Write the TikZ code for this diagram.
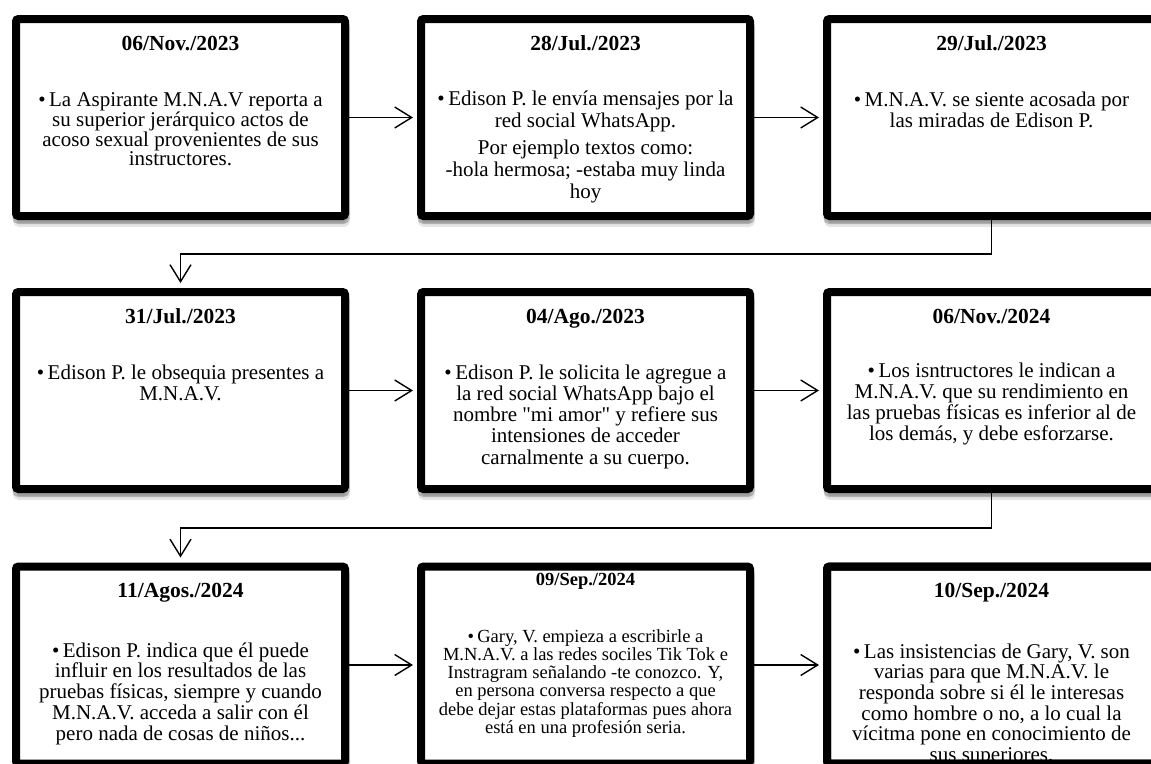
\documentclass[tikz,border=0pt]{standalone}
\usepackage{fontspec}
\setmainfont{Liberation Serif}[Ligatures=TeXOff]
\usetikzlibrary{arrows.meta,shadows,calc}
\begin{document}
\begin{tikzpicture}[x=1pt,y=-1pt,
  box/.style={draw=black, fill=white, line width=8pt, rounded corners=2.5pt,
    minimum width=329pt, minimum height=197pt, inner sep=0pt,
    drop shadow={shadow xshift=1pt, shadow yshift=-7pt, opacity=0.10, fill=black, draw=black, line width=8pt},
    drop shadow={shadow xshift=0.5pt, shadow yshift=-4pt, opacity=0.22, fill=black, draw=black, line width=8pt}},
  boxline/.style={draw=black, line width=8pt, rounded corners=2.5pt},
  title/.style={anchor=base, inner sep=0pt, font=\bfseries\fontsize{21.5}{21.5}\selectfont},
  smalltitle/.style={anchor=base, inner sep=0pt, font=\bfseries\fontsize{18.5}{18.5}\selectfont},
  body/.style={anchor=base, inner sep=0pt, font=\fontsize{21}{21.3}\selectfont},
  smallbody/.style={anchor=base, inner sep=0pt, font=\fontsize{18.5}{18.3}\selectfont},
  wire/.style={line width=1.4pt},
  conn/.style={wire, -{Straight Barb[length=17pt,width=21pt]}, shorten >=4pt}
]
\useasboundingbox (0,0) rectangle (1151,763);
\clip (0,0) rectangle (1151,763);
\fill[white] (0,0) rectangle (1151,763);

% boxes (third column runs off the right edge)
\node[box] (b1) at (180.5,117.5) {};
\node[box] (b2) at (585.5,117.5) {};
\node[box] (b3) at (991.5,117.5) {};
\node[box] (b4) at (180.5,390.5) {};
\node[box] (b5) at (585.5,390.5) {};
\node[box] (b6) at (991.5,390.5) {};
\node[box] (b7) at (180.5,665) {};
\node[box] (b8) at (585.5,665) {};
\node[box] (b9) at (991.5,665) {};

% titles
\node[title] (t1) at (180.5,50) {06/Nov./2023};
\node[title] (t2) at (585.5,50) {28/Jul./2023};
\node[title] (t3) at (991.5,50) {29/Jul./2023};
\node[title] (t4) at (180.5,323) {31/Jul./2023};
\node[title] (t5) at (585.5,323) {04/Ago./2023};
\node[title] (t6) at (991.5,323) {06/Nov./2024};
\node[title] (t7) at (180.5,597) {11/Agos./2024};
\node[smalltitle] (t8) at (585.5,585) {09/Sep./2024};
\node[title] (t9) at (991.5,597) {10/Sep./2024};

% bodies
\node[body, font=\fontsize{21}{18.8}\selectfont] (d1) at (180.5,106) {\begin{tabular}[t]{@{}c@{}}•\,La Aspirante M.N.A.V reporta a\\ su superior jerárquico actos de\\ acoso sexual provenientes de sus\\ instructores.\end{tabular}};
\node[body, font=\fontsize{21}{22}\selectfont] (d2) at (585.5,105) {\begin{tabular}[t]{@{}c@{}}•\,Edison P. le envía mensajes por la\\ red social WhatsApp.\\[5pt] Por ejemplo textos como:\\ -hola hermosa; -estaba muy linda\\ hoy\end{tabular}};
\node[body] (d3) at (991.5,106) {\begin{tabular}[t]{@{}c@{}}•\,M.N.A.V. se siente acosada por\\ las miradas de Edison P.\end{tabular}};
\node[body] (d4) at (180.5,379) {\begin{tabular}[t]{@{}c@{}}•\,Edison P. le obsequia presentes a\\ M.N.A.V.\end{tabular}};
\node[body] (d5) at (585.5,379) {\begin{tabular}[t]{@{}c@{}}•\,Edison P. le solicita le agregue a\\ la red social WhatsApp bajo el\\ nombre "mi amor" y refiere sus\\ intensiones de acceder\\ carnalmente a su cuerpo.\end{tabular}};
\node[body] (d6) at (991.5,377) {\begin{tabular}[t]{@{}c@{}}•\,Los isntructores le indican a\\ M.N.A.V. que su rendimiento en\\ las pruebas físicas es inferior al de\\ los demás, y debe esforzarse.\end{tabular}};
\node[body, font=\fontsize{21}{20.5}\selectfont] (d7) at (180.5,657) {\begin{tabular}[t]{@{}c@{}}•\,Edison P. indica que él puede\\ influir en los resultados de las\\ pruebas físicas, siempre y cuando\\ M.N.A.V. acceda a salir con él\\ pero nada de cosas de niños...\end{tabular}};
\node[smallbody] (d8) at (585.5,642) {\begin{tabular}[t]{@{}c@{}}•\,Gary, V. empieza a escribirle a\\ M.N.A.V. a las redes sociles Tik Tok e\\ Instragram señalando -te conozco. Y,\\ en persona conversa respecto a que\\ debe dejar estas plataformas pues ahora\\ está en una profesión seria.\end{tabular}};
\node[body, font=\fontsize{21}{20.4}\selectfont] (d9) at (991.5,658) {\begin{tabular}[t]{@{}c@{}}•\,Las insistencias de Gary, V. son\\ varias para que M.N.A.V. le\\ responda sobre si él le interesas\\ como hombre o no, a lo cual la\\ vícitma pone en conocimiento de\\ sus superiores.\end{tabular}};

% border of the last box drawn over its overflowing text
\draw[boxline] ([shift={(4,4)}]b9.north west) rectangle ([shift={(-4,-4)}]b9.south east);

% connectors
\coordinate (lane1) at (0,254);
\coordinate (lane2) at (0,528);
\draw[conn] (b1.east) -- (b2.west);
\draw[conn] (b2.east) -- (b3.west);
\draw[conn, shorten >=5pt] (b3.south) -- (b3.south |- lane1) -| (b4.north);
\draw[conn] (b4.east) -- (b5.west);
\draw[conn] (b5.east) -- (b6.west);
\draw[conn, shorten >=5pt] (b6.south) -- (b6.south |- lane2) -| (b7.north);
\draw[conn] (b7.east) -- (b8.west);
\draw[conn] (b8.east) -- (b9.west);
\end{tikzpicture}
\end{document}
